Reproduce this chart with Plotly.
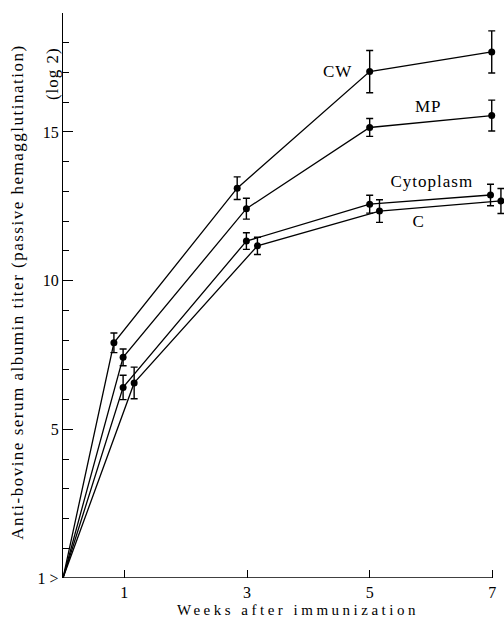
import plotly.graph_objects as go

# ---- data ----
start_week = 0.0      # all curves start at the origin ("1>" titer)
start_titer = 0.0

series_names = ["CW", "MP", "Cytoplasm", "C"]

weeks_cw = [0.83, 2.84, 5.00, 6.99]
titer_cw = [7.91, 13.11, 17.03, 17.69]
err_cw = [0.33, 0.38, 0.71, 0.71]

weeks_mp = [0.98, 2.99, 5.00, 6.99]
titer_mp = [7.42, 12.42, 15.15, 15.55]
err_mp = [0.28, 0.35, 0.30, 0.52]

weeks_cyto = [0.98, 2.99, 5.00, 6.97]
titer_cyto = [6.41, 11.33, 12.57, 12.88]
err_cyto = [0.41, 0.28, 0.30, 0.36]

weeks_c = [1.16, 3.17, 5.16, 7.14]
titer_c = [6.56, 11.17, 12.34, 12.68]
err_c = [0.53, 0.29, 0.38, 0.42]

x_tickvals = [1, 3, 5, 7]
x_ticktext = ["1", "3", "5", "7"]
y_tickvals = [0, 5, 10, 15]
y_ticktext = ["1 >", "5", "10", "15"]

# ---- styling / layout ----
FONT = "Liberation Serif"
INK = "black"

series = [
    (weeks_cw, titer_cw, err_cw),
    (weeks_mp, titer_mp, err_mp),
    (weeks_cyto, titer_cyto, err_cyto),
    (weeks_c, titer_c, err_c),
]
label_pos = {"CW": (4.48, 17.02), "MP": (5.96, 15.85),
             "Cytoplasm": (6.01, 13.35), "C": (5.80, 11.98)}

fig = go.Figure()
for name, (wk, tt, ee) in zip(series_names, series):
    fig.add_trace(go.Scatter(
        x=[start_week] + wk, y=[start_titer] + tt, mode="lines",
        line=dict(color=INK, width=1.3), showlegend=False, hoverinfo="skip"))
    fig.add_trace(go.Scatter(
        x=wk, y=tt, mode="markers", name=name,
        marker=dict(color=INK, size=7),
        error_y=dict(type="data", array=ee, visible=True, color=INK,
                     thickness=1.4, width=3.5),
        cliponaxis=False, showlegend=False))

for name, (lx, ly) in label_pos.items():
    fig.add_annotation(x=lx, y=ly, xref="x", yref="y", text=name,
                       showarrow=False, font=dict(family=FONT, size=17, color=INK))

# x axis line from origin to week 7
fig.add_shape(type="line", xref="x", yref="y", x0=0, x1=7, y0=0, y1=0,
              line=dict(color=INK, width=1.3))

fig.add_annotation(xref="paper", yref="paper", x=0.534, y=-0.0566,
                   text="Weeks after immunization", showarrow=False,
                   xanchor="center", yanchor="middle",
                   font=dict(family=FONT, size=15, color=INK))
fig.add_annotation(xref="paper", yref="paper", x=-0.104, y=0.506,
                   text="Anti-bovine serum albumin titer (passive hemagglutination)",
                   textangle=-90, showarrow=False, xanchor="center", yanchor="middle",
                   font=dict(family=FONT, size=17, color=INK))
fig.add_annotation(xref="paper", yref="paper", x=-0.026, y=0.892,
                   text="(log 2)", textangle=-90, showarrow=False,
                   xanchor="center", yanchor="middle",
                   font=dict(family=FONT, size=17, color=INK))

fig.update_xaxes(range=[0, 7.19], showline=False, zeroline=False, showgrid=False,
                 tickvals=x_tickvals, ticktext=x_ticktext, ticks="inside",
                 ticklen=8, tickwidth=1.2, tickcolor=INK, ticklabelstandoff=3,
                 tickfont=dict(family=FONT, size=16, color=INK), automargin=False)
fig.update_yaxes(range=[0, 19], showline=True, linecolor=INK, linewidth=1.3,
                 zeroline=False, showgrid=False,
                 tickvals=y_tickvals, ticktext=y_ticktext, ticks="inside",
                 ticklen=10, tickwidth=1.2, tickcolor=INK,
                 minor=dict(tickvals=list(range(1, 19)), ticks="inside", ticklen=6,
                            tickwidth=1.2, tickcolor=INK, showgrid=False),
                 tickfont=dict(family=FONT, size=16, color=INK), automargin=False)

fig.update_layout(width=504, height=632, plot_bgcolor="white", paper_bgcolor="white",
                  margin=dict(l=63, r=0, t=13, b=54), showlegend=False,
                  font=dict(family=FONT, color=INK))

post = """
document.body.style.margin = '0';
document.body.style.overflow = 'hidden';
var gd = document.getElementById('{plot_id}');
function spaceText(){
  gd.querySelectorAll('text.annotation-text').forEach(function(t){
    var s = t.textContent;
    if (s.indexOf('Weeks') === 0) { t.style.letterSpacing = '3.5px'; }
    else if (s.indexOf('Anti') === 0) { t.style.letterSpacing = '1.5px'; }
    else { t.style.letterSpacing = '1px'; }
  });
}
spaceText();
gd.on('plotly_afterplot', spaceText);
"""

fig.write_html("out.html", post_script=post, config={"displayModeBar": False})
